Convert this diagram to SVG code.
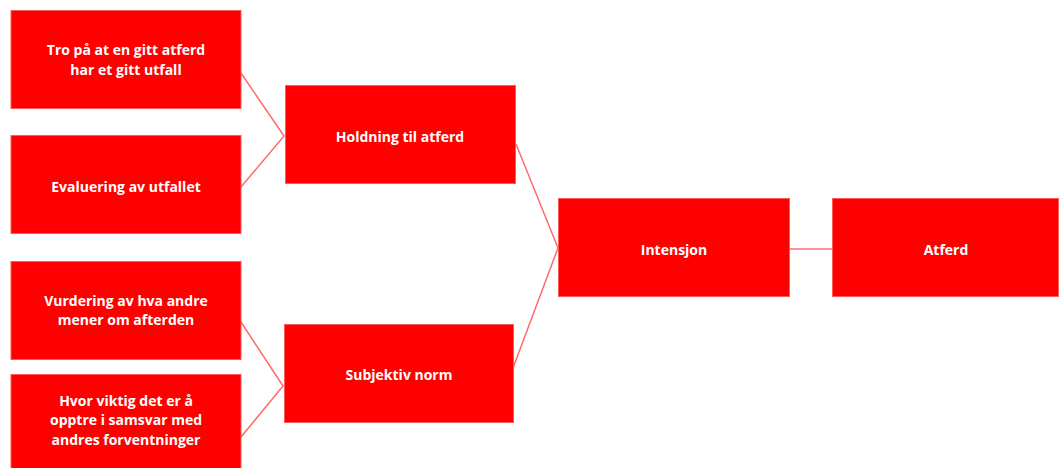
<svg xmlns="http://www.w3.org/2000/svg" width="1059" height="468" viewBox="0 0 1059 468">
<style>
.box{fill:#ff0000;stroke:#ff5a5a;stroke-width:1}
.t{fill:#ffffff;font-family:"Open Sans","Liberation Sans",sans-serif;font-weight:bold;font-size:14px;text-anchor:middle}
.c{fill:none;stroke:#ff6b6b;stroke-width:1.5}
</style>
<rect width="1059" height="468" fill="#ffffff"/>
<g id="connectors">
<polyline class="c" points="241,73 284,136 241,187"/>
<polyline class="c" points="241,322 283,386 241,437"/>
<polyline class="c" points="516,144 558,248 513,368"/>
<line class="c" x1="789" y1="249" x2="832" y2="249"/>
</g>
<g id="n1"><rect class="box" x="11" y="10.5" width="230" height="98"/><text class="t" x="126" y="55">Tro på at en gitt atferd</text><text class="t" x="126" y="75">har et gitt utfall</text></g>
<g id="n2"><rect class="box" x="11" y="135.5" width="230" height="98"/><text class="t" x="126" y="192">Evaluering av utfallet</text></g>
<g id="n3"><rect class="box" x="11" y="261.5" width="230" height="98"/><text class="t" x="126" y="305.5">Vurdering av hva andre</text><text class="t" x="126" y="325">mener om afterden</text></g>
<g id="n4"><rect class="box" x="11" y="374.5" width="230" height="98"/><text class="t" x="126" y="405.5">Hvor viktig det er å</text><text class="t" x="126" y="425">opptre i samsvar med</text><text class="t" x="126" y="445">andres forventninger</text></g>
<g id="n5"><rect class="box" x="285.5" y="85.5" width="230" height="98"/><text class="t" x="400" y="142">Holdning til atferd</text></g>
<g id="n6"><rect class="box" x="284.5" y="324.5" width="229" height="98"/><text class="t" x="399" y="380">Subjektiv norm</text></g>
<g id="n7"><rect class="box" x="558.5" y="198.5" width="231" height="98"/><text class="t" x="674" y="255">Intensjon</text></g>
<g id="n8"><rect class="box" x="832.5" y="198.5" width="226" height="98"/><text class="t" x="946" y="255">Atferd</text></g>
</svg>
